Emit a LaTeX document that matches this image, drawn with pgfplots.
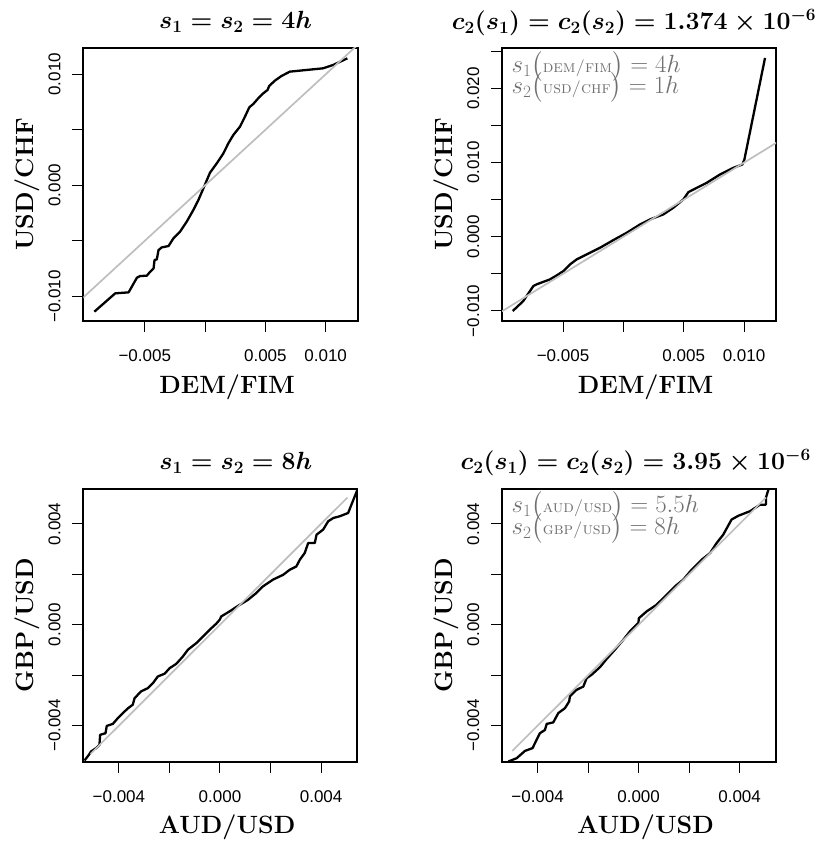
\documentclass[border=0pt]{standalone}
\usepackage{amsmath}
\usepackage{fontspec}
\usepackage{pgfplots}
\pgfplotsset{compat=1.18}
\newfontfamily\tickfont{Liberation Sans}
\definecolor{rgray}{HTML}{BEBEBE}
\definecolor{annot}{HTML}{707070}
\newcommand{\smc}[1]{\mbox{\fontsize{17}{18}\selectfont\textsc{#1}}}
\tikzset{ann/.style={annot, anchor=base west, font=\fontsize{24}{26}\selectfont}}
\pgfplotsset{
  rstyle/.style={
    scale only axis, width=274pt, height=273pt,
    scaled ticks=false,
    axis line style={line width=2pt},
    tick align=outside, xtick pos=left, ytick pos=left,
    major tick length=11pt,
    tick style={line width=1pt, black},
    xticklabel style={font=\tickfont\fontsize{17}{20}\selectfont, anchor=base},
    xticklabel shift=30pt,
    yticklabel style={font=\tickfont\fontsize{17}{20}\selectfont, rotate=90, anchor=base},
    yticklabel shift=12pt,
    every axis x label/.style={at={(axis description cs:0.524,-0.265)}, anchor=base, font=\fontsize{25}{30}\selectfont\bfseries},
    every axis y label/.style={at={(axis description cs:-0.181,0.5)}, rotate=90, anchor=base, font=\fontsize{25}{30}\selectfont\bfseries},
    every axis title/.style={anchor=base, font=\fontsize{26}{30}\selectfont\boldmath},
  },
  blk/.style={black, line width=2.3pt, line join=round},
  gry/.style={rgray, line width=1.7pt},
}
\begin{document}
\begin{tikzpicture}
\path[use as bounding box] (0,0) rectangle (832pt,844pt);
% Panel 1
\begin{axis}[rstyle, at={(83.5pt,523pt)}, anchor=south west,
  xmin=-0.01008, xmax=0.01264, ymin=-0.01222, ymax=0.01237,
  xtick={-0.005,0,0.005,0.01}, xticklabels={−0.005,,0.005,0.010},
  ytick={-0.01,-0.005,0,0.005,0.01}, yticklabels={−0.010,,0.000,,0.010},
  xlabel={DEM/FIM}, ylabel={USD/CHF},
  title={$s_1 = s_2 = 4h$}, title style={at={(axis description cs:0.555,1.07)}}]
\addplot[blk] coordinates {
(-0.00918,-0.01138) (-0.00745,-0.00973) (-0.00634,-0.00964) (-0.00565,-0.00832)
(-0.00538,-0.00817) (-0.00483,-0.00814) (-0.00455,-0.00778) (-0.00427,-0.00748)
(-0.00419,-0.00673) (-0.00400,-0.00667) (-0.00386,-0.00583) (-0.00359,-0.00559)
(-0.00303,-0.00547) (-0.00262,-0.00477) (-0.00207,-0.00417) (-0.00152,-0.00327)
(-0.00097,-0.00222) (-0.00055,-0.00132) (-0.00008,-0.00012) (0.00041,0.00114)
(0.00097,0.00198) (0.00152,0.00288) (0.00193,0.00378) (0.00234,0.00453)
(0.00290,0.00529) (0.00331,0.00619) (0.00367,0.00703) (0.00400,0.00733)
(0.00441,0.00784) (0.00483,0.00829) (0.00518,0.00859) (0.00532,0.00895)
(0.00579,0.00943) (0.00634,0.00985) (0.00703,0.01024) (0.00841,0.01039)
(0.00979,0.01054) (0.01062,0.01084) (0.01180,0.01144)};
\addplot[gry] coordinates {(-0.0102,-0.0102) (0.0128,0.0128)};
\end{axis}
% Panel 2
\begin{axis}[rstyle, at={(502pt,523pt)}, anchor=south west,
  xmin=-0.01006, xmax=0.01265, ymin=-0.01137, ymax=0.02547,
  xtick={-0.005,0,0.005,0.01}, xticklabels={−0.005,,0.005,0.010},
  ytick={-0.01,-0.005,0,0.005,0.01,0.015,0.02,0.025}, yticklabels={−0.010,,0.000,,0.010,,0.020,},
  xlabel={DEM/FIM}, ylabel={USD/CHF},
  title={$c_2(s_1) = c_2(s_2) = 1.374\times 10^{-6}$}, title style={at={(axis description cs:0.482,1.068)}}]
\addplot[blk] coordinates {
(-0.00917,-0.01002) (-0.00829,-0.00867) (-0.00746,-0.00665) (-0.00718,-0.00642)
(-0.00608,-0.00575) (-0.00552,-0.00521) (-0.00497,-0.00463) (-0.00442,-0.00373)
(-0.00387,-0.00306) (-0.00304,-0.00238) (-0.00193,-0.00148) (-0.00083,-0.00045)
(0.00028,0.00054) (0.00138,0.00166) (0.00221,0.00234) (0.00331,0.00301)
(0.00414,0.00391) (0.00497,0.00503) (0.00539,0.00602) (0.00608,0.00660)
(0.00691,0.00728) (0.00801,0.00840) (0.00912,0.00930) (0.00986,0.00975)
(0.01003,0.01042) (0.01174,0.02413)};
\addplot[gry] coordinates {(-0.0102,-0.0102) (0.0128,0.0128)};
\node[ann] at (axis description cs:0.022,0.910) {$s_1\bigl(\smc{dem/fim}\bigr) = 4h$};
\node[ann] at (axis description cs:0.022,0.832) {$s_2\bigl(\smc{usd/chf}\bigr) = 1h$};
\end{axis}
% Panel 3
\begin{axis}[rstyle, at={(83.5pt,82.5pt)}, anchor=south west,
  xmin=-0.0054, xmax=0.00544, ymin=-0.00542, ymax=0.0054,
  xtick={-0.004,-0.002,0,0.002,0.004}, xticklabels={−0.004,,0.000,,0.004},
  ytick={-0.004,-0.002,0,0.002,0.004}, yticklabels={−0.004,,0.000,,0.004},
  xlabel={AUD/USD}, ylabel={GBP/USD},
  title={$s_1 = s_2 = 8h$}, title style={at={(axis description cs:0.556,1.068)}}]
\addplot[blk] coordinates {
(-0.00536,-0.00538) (-0.00519,-0.00516) (-0.00510,-0.00502) (-0.00490,-0.00489)
(-0.00477,-0.00476) (-0.00474,-0.00436) (-0.00453,-0.00430) (-0.00448,-0.00401)
(-0.00424,-0.00393) (-0.00404,-0.00370) (-0.00384,-0.00350) (-0.00364,-0.00331)
(-0.00345,-0.00317) (-0.00338,-0.00291) (-0.00312,-0.00264) (-0.00285,-0.00251)
(-0.00265,-0.00231) (-0.00246,-0.00205) (-0.00219,-0.00194) (-0.00199,-0.00172)
(-0.00173,-0.00155) (-0.00147,-0.00126) (-0.00127,-0.00099) (-0.00094,-0.00073)
(-0.00067,-0.00046) (-0.00041,-0.00020) (-0.00015,0.00004) (-0.00001,0.00020)
(0.00005,0.00033) (0.00038,0.00053) (0.00078,0.00079) (0.00111,0.00099)
(0.00144,0.00126) (0.00170,0.00152) (0.00210,0.00179) (0.00250,0.00198)
(0.00276,0.00218) (0.00302,0.00231) (0.00316,0.00258) (0.00335,0.00284)
(0.00349,0.00324) (0.00375,0.00324) (0.00382,0.00357) (0.00408,0.00377)
(0.00428,0.00410) (0.00448,0.00423) (0.00474,0.00430) (0.00507,0.00443)
(0.00520,0.00476) (0.00544,0.00536)};
\addplot[gry] coordinates {(-0.00512,-0.00512) (0.00504,0.00504)};
\end{axis}
% Panel 4
\begin{axis}[rstyle, at={(502pt,82.5pt)}, anchor=south west,
  xmin=-0.00541, xmax=0.00544, ymin=-0.00542, ymax=0.0054,
  xtick={-0.004,-0.002,0,0.002,0.004}, xticklabels={−0.004,,0.000,,0.004},
  ytick={-0.004,-0.002,0,0.002,0.004}, yticklabels={−0.004,,0.000,,0.004},
  xlabel={AUD/USD}, ylabel={GBP/USD},
  title={$c_2(s_1) = c_2(s_2) = 3.95\times 10^{-6}$}, title style={at={(axis description cs:0.488,1.068)}}]
\addplot[blk] coordinates {
(-0.00516,-0.00542) (-0.00483,-0.00529) (-0.00450,-0.00500) (-0.00420,-0.00489)
(-0.00404,-0.00456) (-0.00391,-0.00430) (-0.00371,-0.00417) (-0.00364,-0.00393)
(-0.00338,-0.00387) (-0.00318,-0.00350) (-0.00292,-0.00331) (-0.00275,-0.00304)
(-0.00272,-0.00284) (-0.00246,-0.00258) (-0.00219,-0.00245) (-0.00206,-0.00212)
(-0.00186,-0.00198) (-0.00153,-0.00168) (-0.00127,-0.00136) (-0.00094,-0.00099)
(-0.00061,-0.00060) (-0.00034,-0.00026) (-0.00001,0.00007) (0.00001,0.00026)
(0.00032,0.00053) (0.00071,0.00079) (0.00111,0.00119) (0.00144,0.00152)
(0.00177,0.00179) (0.00210,0.00218) (0.00250,0.00258) (0.00283,0.00284)
(0.00309,0.00324) (0.00335,0.00357) (0.00368,0.00417) (0.00395,0.00432)
(0.00441,0.00450) (0.00481,0.00476) (0.00504,0.00476) (0.00504,0.00503)
(0.00514,0.00536)};
\addplot[gry] coordinates {(-0.00500,-0.00500) (0.00504,0.00504)};
\node[ann] at (axis description cs:0.022,0.912) {$s_1\bigl(\smc{aud/usd}\bigr) = 5.5h$};
\node[ann] at (axis description cs:0.022,0.832) {$s_2\bigl(\smc{gbp/usd}\bigr) = 8h$};
\end{axis}
\end{tikzpicture}
\end{document}
